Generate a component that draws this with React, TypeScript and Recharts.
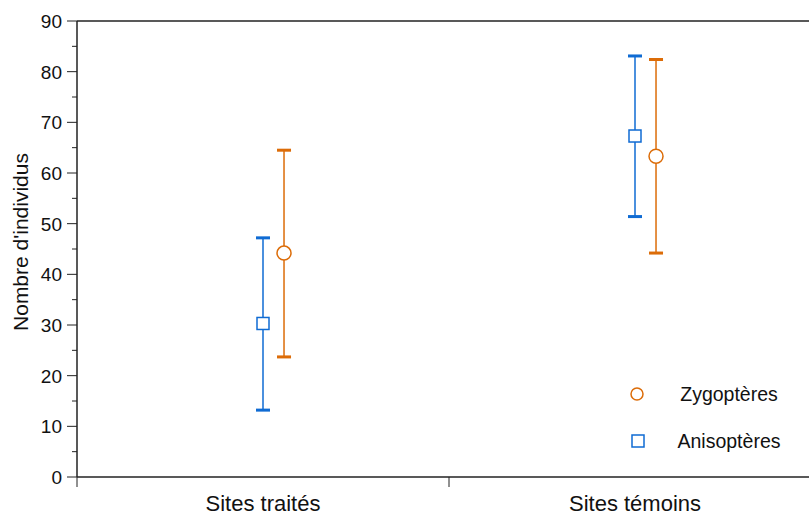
import { ComposedChart, Scatter, ErrorBar, XAxis, YAxis, ReferenceLine, Legend } from 'recharts';

const categories = ['Sites traités', 'Sites témoins'];

// Anisoptères (carrés bleus)
const anisoMean = [30.3, 67.3];
const anisoLow = [13.2, 51.4];
const anisoHigh = [47.2, 83.1];

// Zygoptères (cercles orange)
const zygoMean = [44.2, 63.3];
const zygoLow = [23.7, 44.2];
const zygoHigh = [64.5, 82.4];

const yTicks = [0, 5, 10, 15, 20, 25, 30, 35, 40, 45, 50, 55, 60, 65, 70, 75, 80, 85, 90];
const xTicks = [0, 0.5, 1, 1.5, 2];

const BLUE = '#0f6bd3';
const ORANGE = '#dc6c08';
const FONT = '"Liberation Sans", Arial, sans-serif';
const ZYGO_SHIFT = 0.0565; // décalage horizontal des cercles dans chaque groupe

const anisoData = categories.map((c, i) => ({
  x: i + 0.5,
  y: anisoMean[i],
  err: [anisoMean[i] - anisoLow[i], anisoHigh[i] - anisoMean[i]],
}));
const zygoData = categories.map((c, i) => ({
  x: i + 0.5 + ZYGO_SHIFT,
  y: zygoMean[i],
  err: [zygoMean[i] - zygoLow[i], zygoHigh[i] - zygoMean[i]],
}));
const anisoCaps = [...anisoLow, ...anisoHigh].map((v, k) => ({ x: (k % 2) + 0.5, y: v }));
const zygoCaps = [...zygoLow, ...zygoHigh].map((v, k) => ({ x: (k % 2) + 0.5 + ZYGO_SHIFT, y: v }));

const legendItems = [
  { name: 'Zygoptères', color: ORANGE, shape: 'circle' },
  { name: 'Anisoptères', color: BLUE, shape: 'square' },
];

const YTick = (props: any) => {
  const { x, y, payload } = props;
  const major = payload.value % 10 === 0;
  return (
    <g>
      <line x1={x - (major ? 10 : 5)} x2={x} y1={y} y2={y} stroke="#222" strokeWidth={1} />
      {major && (
        <text x={x - 15} y={y + 7} textAnchor="end" fontSize={19} fontFamily={FONT} fill="#111">
          {payload.value}
        </text>
      )}
    </g>
  );
};

const XTick = (props: any) => {
  const { x, y, payload } = props;
  if (Number.isInteger(payload.value)) {
    return <line x1={x} x2={x} y1={y} y2={y + 10} stroke="#222" strokeWidth={1} />;
  }
  return (
    <text x={x} y={y + 34} textAnchor="middle" fontSize={22} fontFamily={FONT} fill="#111">
      {categories[Math.floor(payload.value)]}
    </text>
  );
};

const capShape = (color: string) => (p: any) =>
  <rect x={p.cx - 7} y={p.cy - 1.5} width={14} height={3} fill={color} />;

const squareShape = (p: any) => (
  <rect x={p.cx - 6} y={p.cy - 6} width={12} height={12} fill="#fff" stroke={BLUE} strokeWidth={1.5} />
);
const circleShape = (p: any) => (
  <circle cx={p.cx} cy={p.cy} r={7} fill="#fff" stroke={ORANGE} strokeWidth={1.5} />
);

const renderLegend = () => (
  <svg width={180} height={80}>
    {legendItems.map((item, i) => {
      const cy = 16 + i * 47;
      return (
        <g key={item.name}>
          {item.shape === 'circle' ? (
            <circle cx={12} cy={cy} r={6} fill="#fff" stroke={item.color} strokeWidth={1.5} />
          ) : (
            <rect x={7} y={cy - 6} width={12} height={12} fill="#fff" stroke={item.color} strokeWidth={1.5} />
          )}
          <text x={104} y={cy + 7} textAnchor="middle" fontSize={19.5} fontFamily={FONT} fill="#111">
            {item.name}
          </text>
        </g>
      );
    })}
  </svg>
);

export default function App() {
  return (
    <div style={{ position: 'fixed', left: 0, top: 0, width: 809, height: 515, overflow: 'hidden', background: '#fff' }}>
      <ComposedChart width={830} height={515} margin={{ top: 21, right: 9, bottom: 0, left: 0 }}>
        <XAxis
          type="number"
          dataKey="x"
          domain={[0, 2]}
          ticks={xTicks}
          interval={0}
          tickSize={0}
          tickMargin={0}
          tickLine={false}
          tick={<XTick />}
          axisLine={{ stroke: '#222', strokeWidth: 1.5 }}
          height={38}
          allowDataOverflow
        />
        <YAxis
          type="number"
          domain={[0, 90]}
          ticks={yTicks}
          interval={0}
          tickSize={0}
          tickMargin={0}
          tickLine={false}
          tick={<YTick />}
          axisLine={{ stroke: '#222', strokeWidth: 1.5 }}
          width={77}
          label={{
            content: (lp: any) => {
              const vb = lp.viewBox;
              const cx = 20;
              const cy = vb.y + vb.height / 2 - 7;
              return (
                <text
                  x={cx}
                  y={cy}
                  transform={`rotate(-90 ${cx} ${cy})`}
                  textAnchor="middle"
                  dominantBaseline="central"
                  fontSize={21}
                  fontFamily={FONT}
                  fill="#111"
                >
                  Nombre d'individus
                </text>
              );
            },
          }}
        />
        <ReferenceLine y={90} stroke="#222" strokeWidth={1.5} />
        <Legend
          layout="vertical"
          align="center"
          verticalAlign="middle"
          wrapperStyle={{ left: 625, top: 378, width: 180 }}
          content={renderLegend}
        />
        <Scatter name="Anisoptères" data={anisoData} dataKey="y" shape={squareShape} isAnimationActive={false}>
          <ErrorBar dataKey="err" direction="y" width={0} stroke={BLUE} strokeWidth={1.5} isAnimationActive={false} />
        </Scatter>
        <Scatter data={anisoCaps} dataKey="y" shape={capShape(BLUE)} legendType="none" isAnimationActive={false} />
        <Scatter name="Zygoptères" data={zygoData} dataKey="y" shape={circleShape} isAnimationActive={false}>
          <ErrorBar dataKey="err" direction="y" width={0} stroke={ORANGE} strokeWidth={1.5} isAnimationActive={false} />
        </Scatter>
        <Scatter data={zygoCaps} dataKey="y" shape={capShape(ORANGE)} legendType="none" isAnimationActive={false} />
      </ComposedChart>
    </div>
  );
}
